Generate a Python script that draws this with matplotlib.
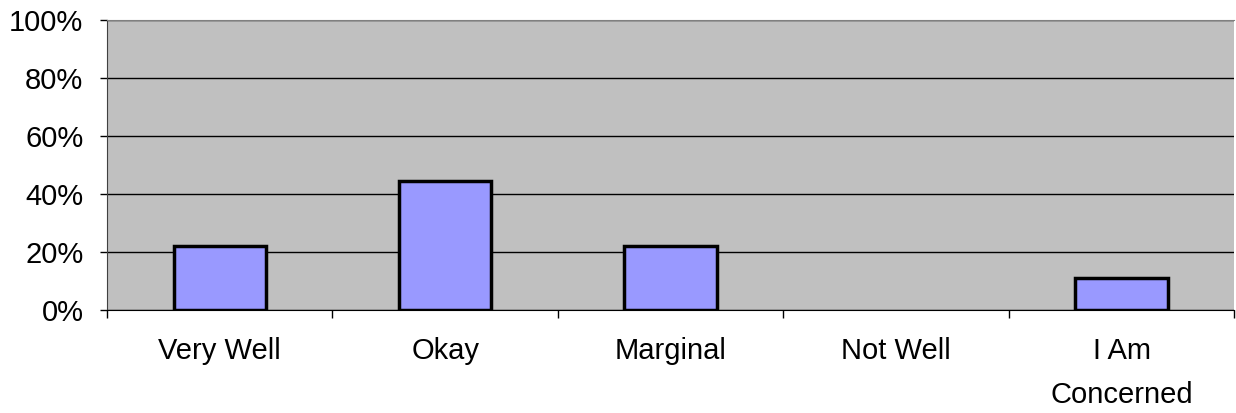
import matplotlib
matplotlib.use("Agg")
import matplotlib.pyplot as plt
import matplotlib.ticker as ticker
import numpy as np

categories = ["Very Well", "Okay", "Marginal", "Not Well", "I Am\nConcerned"]
values = [0.222, 0.444, 0.222, 0.0, 0.111]
y_ticks = [0, 0.2, 0.4, 0.6, 0.8, 1.0]

plt.rcParams['font.family'] = ['Liberation Sans', 'DejaVu Sans']

fig = plt.figure(figsize=(12.36, 4.13), dpi=100)
ax = fig.add_axes([0.0866, 0.249, 0.912, 0.703])
ax.set_facecolor("#C0C0C0")

x = np.arange(len(categories))
# zero bars get no outline, as in the original
lw = [2.5 if v > 0 else 0 for v in values]
ax.bar(x, values, width=0.41, color="#9999FF", edgecolor="black", linewidth=lw, zorder=3)

ax.set_xlim(-0.5, len(categories) - 0.5)
ax.set_ylim(0, 1.0)
ax.set_yticks(y_ticks)
ax.yaxis.set_major_formatter(ticker.FuncFormatter(lambda v, p: "%d%%" % round(v * 100)))
ax.grid(axis="y", color="black", linewidth=1.0, zorder=1)

ax.set_xticks(x)
ax.set_xticklabels(categories, linespacing=1.75, va="top")
ax.set_xticks(np.arange(len(categories) + 1) - 0.5, minor=True)
ax.tick_params(axis="x", which="major", length=0, pad=19, labelsize=21)
ax.tick_params(axis="x", which="minor", length=6, width=1, color="black", direction="out")
ax.tick_params(axis="y", length=5, width=1, color="black", pad=12, labelsize=21)

ax.spines["top"].set_color("#808080")
ax.spines["right"].set_visible(False)
ax.spines["left"].set_color("#404040")
ax.spines["bottom"].set_color("black")

fig.savefig("out.png", dpi=100)
